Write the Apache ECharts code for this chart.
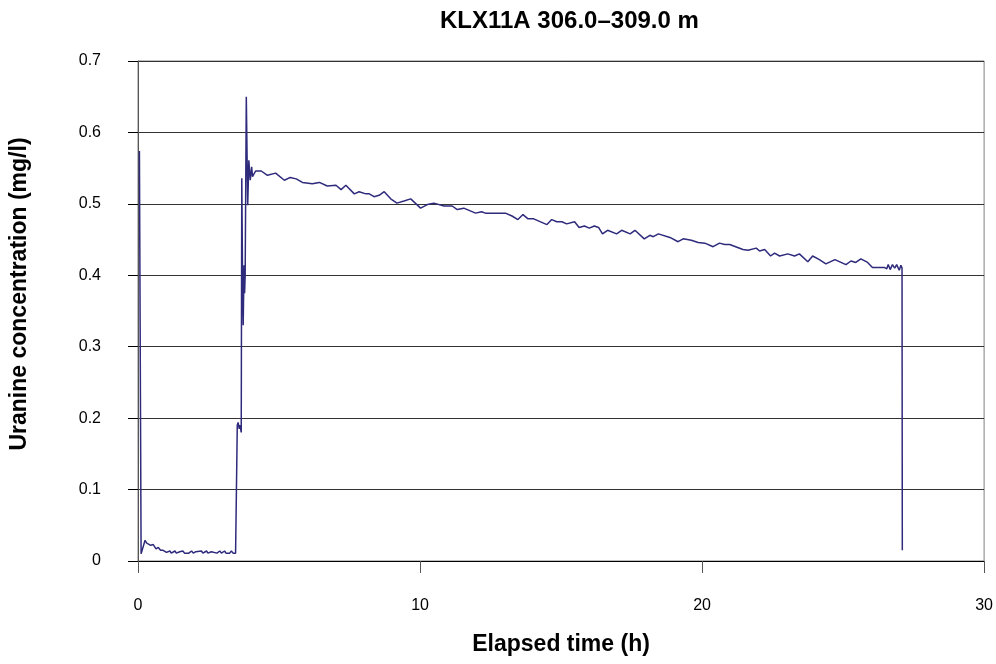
<!DOCTYPE html>
<html>
<head>
<meta charset="utf-8">
<script src="https://cdn.jsdelivr.net/npm/echarts@6/dist/echarts.min.js"></script>
<style>
  html, body { margin: 0; padding: 0; background: #fff; }
  #chart { width: 996px; height: 664px; }
</style>
</head>
<body>
<div id="chart"></div>
<script>
// elapsed time (h) and uranine concentration (mg/l)
var timeH = [
  0.05, 0.11, 0.25, 0.31, 0.36, 0.45, 0.54, 0.64, 0.72, 0.80, 0.89, 1.01,
  1.08, 1.13, 1.18, 1.31, 1.36, 1.48, 1.53, 1.59, 1.65, 1.80, 1.90, 1.96,
  2.05, 2.10, 2.25, 2.30, 2.43, 2.48, 2.60, 2.66, 2.80, 2.90, 2.96, 3.07,
  3.12, 3.25, 3.31, 3.37, 3.46,
  3.50, 3.52, 3.55, 3.59, 3.62, 3.66, 3.68, 3.71, 3.73, 3.76, 3.78, 3.80,
  3.84, 3.89, 3.93, 3.98, 4.03, 4.06, 4.17, 4.37, 4.59, 4.88, 5.19, 5.40,
  5.61, 5.83, 6.18, 6.43, 6.71, 7.02, 7.20, 7.37, 7.67, 7.84, 8.08, 8.20,
  8.37, 8.55, 8.73, 8.96, 9.18, 9.43, 9.67, 10.02, 10.26, 10.49, 10.85, 11.14,
  11.32, 11.55, 11.97, 12.18, 12.32, 13.03, 13.26, 13.47, 13.65, 13.83, 14.03, 14.50,
  14.67, 14.85, 15.03, 15.20, 15.48, 15.64, 15.83, 16.00, 16.18, 16.33, 16.47, 16.65,
  16.97, 17.15, 17.45, 17.62, 17.95, 18.15, 18.27, 18.45, 18.86, 19.15, 19.33, 19.62,
  19.86, 20.10, 20.39, 20.45, 20.62, 20.80, 20.98, 21.45, 21.63, 21.92, 22.04, 22.22,
  22.43, 22.57, 22.75, 23.04, 23.28, 23.45, 23.75, 23.92, 24.16, 24.39, 24.71, 25.10,
  25.28, 25.45, 25.63, 25.87, 26.04, 26.46, 26.55, 26.60, 26.67, 26.75, 26.83, 26.90,
  26.99, 27.05, 27.09, 27.10
];
var uranine = [
  0.574, 0.010, 0.029, 0.025, 0.027, 0.022, 0.023, 0.017, 0.019, 0.015, 0.015, 0.012,
  0.011, 0.014, 0.011, 0.014, 0.011, 0.013, 0.011, 0.014, 0.011, 0.011, 0.014, 0.011,
  0.013, 0.011, 0.014, 0.011, 0.014, 0.011, 0.013, 0.011, 0.011, 0.014, 0.011, 0.014,
  0.011, 0.011, 0.014, 0.011, 0.011,
  0.130, 0.190, 0.194, 0.185, 0.190, 0.180, 0.536, 0.380, 0.330, 0.414, 0.375, 0.400,
  0.650, 0.498, 0.561, 0.533, 0.552, 0.538, 0.546, 0.546, 0.540, 0.543, 0.533, 0.537,
  0.535, 0.530, 0.528, 0.530, 0.525, 0.526, 0.520, 0.526, 0.514, 0.517, 0.514, 0.514,
  0.510, 0.512, 0.517, 0.507, 0.501, 0.504, 0.507, 0.494, 0.499, 0.501, 0.497, 0.497,
  0.492, 0.494, 0.487, 0.489, 0.487, 0.487, 0.483, 0.478, 0.485, 0.479, 0.479, 0.471,
  0.478, 0.475, 0.475, 0.472, 0.475, 0.467, 0.469, 0.466, 0.469, 0.467, 0.458, 0.463,
  0.458, 0.463, 0.458, 0.463, 0.451, 0.456, 0.454, 0.458, 0.453, 0.447, 0.451, 0.449,
  0.446, 0.445, 0.440, 0.438, 0.445, 0.443, 0.443, 0.436, 0.435, 0.438, 0.434, 0.436,
  0.427, 0.431, 0.427, 0.430, 0.427, 0.430, 0.419, 0.427, 0.422, 0.416, 0.422, 0.415,
  0.420, 0.418, 0.423, 0.418, 0.411, 0.411, 0.409, 0.415, 0.408, 0.415, 0.410, 0.415,
  0.407, 0.414, 0.410, 0.015
];
var xTicks = [0, 10, 20, 30];
var yTicks = [0, 0.1, 0.2, 0.3, 0.4, 0.5, 0.6, 0.7];

var points = timeH.map(function (t, i) { return [t, uranine[i]]; });

var chart = echarts.init(document.getElementById('chart'));
var font = 'Arial, "Liberation Sans", sans-serif';

chart.setOption({
  animation: false,
  backgroundColor: '#ffffff',
  title: {
    text: 'KLX11A 306.0\u2013309.0 m',
    left: 435,
    top: 4,
    textStyle: { fontFamily: font, fontSize: 24, fontWeight: 'bold', color: '#000' }
  },
  grid: {
    left: 138, right: 8, top: 61, bottom: 103,
    show: true, borderColor: '#808080', borderWidth: 1
  },
  xAxis: {
    type: 'value',
    min: xTicks[0], max: xTicks[xTicks.length - 1], interval: 10,
    name: 'Elapsed time (h)',
    nameLocation: 'middle',
    nameGap: 72,
    nameTextStyle: { fontFamily: font, fontSize: 23, fontWeight: 'bold', color: '#000' },
    axisLine: { lineStyle: { color: '#000', width: 1 } },
    axisTick: { show: true, length: 12, lineStyle: { color: '#555' } },
    axisLabel: { margin: 37, fontFamily: font, fontSize: 16, color: '#000' },
    splitLine: { show: false }
  },
  yAxis: {
    type: 'value',
    min: yTicks[0], max: yTicks[yTicks.length - 1], interval: 0.1,
    name: 'Uranine concentration (mg/l)',
    nameLocation: 'middle',
    nameGap: 107,
    nameTextStyle: { fontFamily: font, fontSize: 23, fontWeight: 'bold', color: '#000', padding: [0, 0, 0, 34] },
    axisLine: { lineStyle: { color: '#555', width: 1 } },
    axisTick: { show: true, length: 10, lineStyle: { color: '#000' } },
    axisLabel: { margin: 37, fontFamily: font, fontSize: 16, color: '#000',
      formatter: function (v) { return String(Math.round(v * 10) / 10); } },
    splitLine: { show: true, lineStyle: { color: '#333', width: 1 } }
  },
  series: [{
    type: 'line',
    data: points,
    showSymbol: false,
    symbol: 'none',
    lineStyle: { color: '#2E2A7C', width: 1.5 }
  }]
});
</script>
</body>
</html>
